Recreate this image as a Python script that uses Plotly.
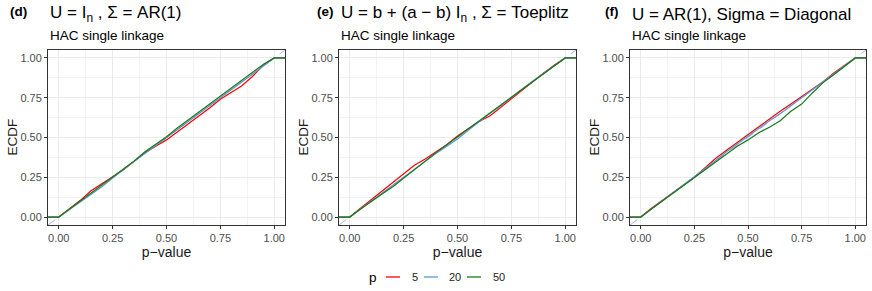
import plotly.graph_objects as go

# ---------------- data ----------------
p_grid = [0.00, 0.05, 0.10, 0.15, 0.20, 0.25, 0.30, 0.35, 0.40, 0.45, 0.50,
          0.55, 0.60, 0.65, 0.70, 0.75, 0.80, 0.85, 0.90, 0.95, 1.00]

series_names = ["5", "20", "50"]
series_colors = ["#FF0000", "#5A96D2", "#1A7A1A"]

d_p5 = [0, .052, .105, .165, .21, .25, .298, .35, .405, .445, .485, .535, .585, .63, .685, .74, .785, .825, .885, .955, 1]
d_p20 = [0, .048, .095, .14, .19, .245, .30, .35, .40, .45, .50, .55, .595, .645, .70, .75, .80, .85, .90, .95, 1]
d_p50 = [0, .05, .10, .15, .20, .25, .30, .352, .41, .455, .505, .56, .61, .66, .71, .755, .805, .855, .905, .96, 1]

e_p5 = [0, .055, .11, .16, .215, .27, .325, .365, .41, .455, .51, .555, .60, .635, .69, .745, .80, .855, .905, .955, 1]
e_p20 = [0, .05, .10, .15, .20, .255, .305, .355, .40, .445, .49, .545, .60, .65, .70, .755, .805, .855, .905, .955, 1]
e_p50 = [0, .05, .10, .145, .19, .245, .30, .355, .405, .455, .505, .555, .605, .65, .70, .75, .80, .85, .905, .955, 1]

f_p5 = [0, .055, .105, .155, .205, .25, .31, .37, .42, .47, .52, .565, .615, .665, .71, .755, .80, .85, .905, .955, 1]
f_p20 = [0, .05, .10, .15, .20, .25, .30, .355, .41, .46, .505, .555, .605, .65, .70, .75, .80, .85, .90, .955, 1]
f_p50 = [0, .05, .10, .15, .20, .245, .295, .35, .40, .445, .485, .53, .565, .605, .665, .71, .78, .845, .895, .945, 1]

panel_tags = ["(d)", "(e)", "(f)"]
panel_titles = ["U = I<sub>n</sub> , Σ = AR(1)",
                "U = b + (a − b) I<sub>n</sub> , Σ = Toeplitz",
                "U = AR(1), Sigma = Diagonal"]
panel_subtitle = "HAC single linkage"
y_title = "ECDF"
x_title = "p−value"
panels = [[d_p5, d_p20, d_p50], [e_p5, e_p20, e_p50], [f_p5, f_p20, f_p50]]

tick_vals = [0, 0.25, 0.5, 0.75, 1.0]
tick_text = ["0.00", "0.25", "0.50", "0.75", "1.00"]
axis_range = [-0.05, 1.05]

# ---------------- layout geometry (page pixels) ----------------
FW, FH = 872, 291


def px(x):
    return x / FW


def py(y):
    return 1 - y / FH


panel_px = [(48, 285), (339, 576), (630, 866)]
top_px, bot_px = 50, 225
ydom = [py(bot_px), py(top_px)]

fig = go.Figure()
font_fam = "Liberation Sans, Arial, sans-serif"

for i, series in enumerate(panels):
    ax = "" if i == 0 else str(i + 1)
    xref, yref = "x" + ax, "y" + ax
    # reference diagonal
    fig.add_trace(go.Scatter(x=axis_range, y=axis_range, mode="lines",
                             line=dict(color="rgba(120,120,235,0.6)", width=1, dash="dash"),
                             showlegend=False, hoverinfo="skip", xaxis=xref, yaxis=yref))
    for name, col, vals in zip(series_names, series_colors, series):
        xs = [axis_range[0]] + p_grid + [axis_range[1]]
        ys = [vals[0]] + vals + [vals[-1]]
        fig.add_trace(go.Scatter(x=xs, y=ys, mode="lines", name=name,
                                 line=dict(color=col, width=1.2),
                                 showlegend=False, xaxis=xref, yaxis=yref))
    x0, x1 = panel_px[i]
    common = dict(range=axis_range, tickvals=tick_vals, ticktext=tick_text,
                  showgrid=True, gridcolor="#EBEBEB", gridwidth=1,
                  minor=dict(showgrid=True, gridcolor="#F3F3F3", gridwidth=0.6,
                             tickvals=[0.125, 0.375, 0.625, 0.875]),
                  showline=True, mirror=True, linecolor="#333333", linewidth=1,
                  ticks="outside", ticklen=3, tickcolor="#333333",
                  tickfont=dict(size=11, color="#4D4D4D", family=font_fam),
                  zeroline=False)
    fig.layout["xaxis" + ax] = dict(domain=[px(x0), px(x1)], anchor=yref,
                                    title=dict(text=x_title, standoff=2,
                                               font=dict(size=14, color="#1A1A1A", family=font_fam)),
                                    **common)
    fig.layout["yaxis" + ax] = dict(domain=ydom, anchor=xref, **common)
    # y-axis title
    fig.add_annotation(x=px(x0 - 36), y=(ydom[0] + ydom[1]) / 2, xref="paper", yref="paper",
                       text=y_title, textangle=-90, showarrow=False,
                       xanchor="center", yanchor="middle",
                       font=dict(size=13.5, color="#1A1A1A", family=font_fam))
    # tag, title, subtitle
    tag_x = [8, 315, 603][i]
    fig.add_annotation(x=px(tag_x), y=py(12), xref="paper", yref="paper",
                       text="<b>" + panel_tags[i] + "</b>", showarrow=False,
                       xanchor="left", yanchor="middle",
                       font=dict(size=13.5, color="#000000", family=font_fam))
    fig.add_annotation(x=px(x0), y=py(14), xref="paper", yref="paper",
                       text=panel_titles[i], showarrow=False,
                       xanchor="left", yanchor="middle",
                       font=dict(size=17, color="#000000", family=font_fam))
    fig.add_annotation(x=px(x0), y=py(35), xref="paper", yref="paper",
                       text=panel_subtitle, showarrow=False,
                       xanchor="left", yanchor="middle",
                       font=dict(size=13.5, color="#000000", family=font_fam))

# ---------------- manual legend ----------------
leg_y = py(277)
fig.add_annotation(x=px(373), y=leg_y, xref="paper", yref="paper", text="p",
                   showarrow=False, xanchor="center", yanchor="middle",
                   font=dict(size=13.5, color="#000000", family=font_fam))
line_starts = [386, 424, 467]
label_x = [410, 447, 491]
for name, col, lx0, tx in zip(series_names, series_colors, line_starts, label_x):
    fig.add_shape(type="line", xref="paper", yref="paper",
                  x0=px(lx0), x1=px(lx0 + 14), y0=leg_y, y1=leg_y,
                  line=dict(color=col, width=1.3))
    fig.add_annotation(x=px(tx), y=leg_y, xref="paper", yref="paper", text=name,
                       showarrow=False, xanchor="left", yanchor="middle",
                       font=dict(size=11, color="#1A1A1A", family=font_fam))

fig.update_layout(width=FW, height=FH, margin=dict(l=0, r=0, t=0, b=0),
                  paper_bgcolor="white", plot_bgcolor="white",
                  showlegend=False, font=dict(family=font_fam))

fig.write_html("out.html", config={"displayModeBar": False},
               post_script="document.body.style.margin='0';document.body.style.padding='0';")
